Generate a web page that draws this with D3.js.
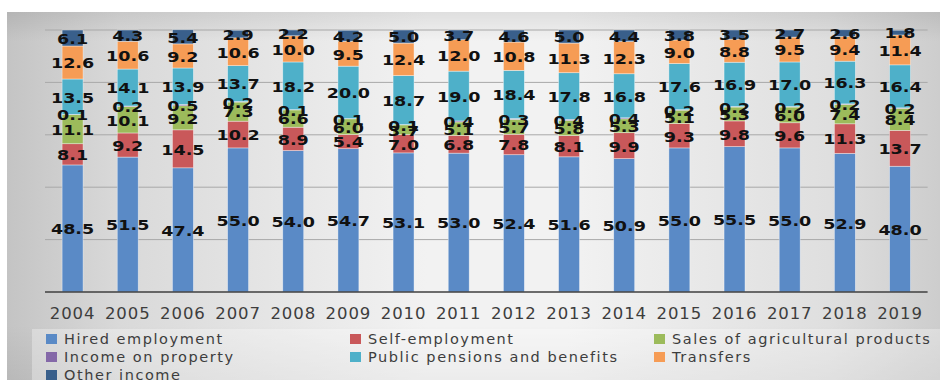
<!DOCTYPE html>
<html>
<head>
<meta charset="utf-8">
<script src="https://cdn.jsdelivr.net/npm/d3@7"></script>
<style>
  html, body { margin: 0; padding: 0; background: #ffffff; }
  svg { display: block; }
</style>
</head>
<body>
<svg id="chart" width="940" height="380"></svg>
<script>
// Household income structure by source, % of total
const years = ["2004","2005","2006","2007","2008","2009","2010","2011","2012","2013","2014","2015","2016","2017","2018","2019"];
const hiredEmployment = [48.5, 51.5, 47.4, 55.0, 54.0, 54.7, 53.1, 53.0, 52.4, 51.6, 50.9, 55.0, 55.5, 55.0, 52.9, 48.0];
const selfEmployment  = [8.1, 9.2, 14.5, 10.2, 8.9, 5.4, 7.0, 6.8, 7.8, 8.1, 9.9, 9.3, 9.8, 9.6, 11.3, 13.7];
const agriSales       = [11.1, 10.1, 9.2, 7.3, 6.6, 6.0, 3.7, 5.1, 5.7, 5.8, 5.3, 5.1, 5.3, 6.0, 7.4, 8.4];
const propertyIncome  = [0.1, 0.2, 0.5, 0.2, 0.1, 0.1, 0.1, 0.4, 0.3, 0.4, 0.4, 0.2, 0.2, 0.2, 0.2, 0.2];
const pensions        = [13.5, 14.1, 13.9, 13.7, 18.2, 20.0, 18.7, 19.0, 18.4, 17.8, 16.8, 17.6, 16.9, 17.0, 16.3, 16.4];
const transfers       = [12.6, 10.6, 9.2, 10.6, 10.0, 9.5, 12.4, 12.0, 10.8, 11.3, 12.3, 9.0, 8.8, 9.5, 9.4, 11.4];
const otherIncome     = [6.1, 4.3, 5.4, 2.9, 2.2, 4.2, 5.0, 3.7, 4.6, 5.0, 4.4, 3.8, 3.5, 2.7, 2.6, 1.8];
const yTicks = [0, 20, 40, 60, 80, 100];

const seriesNames = ["Hired employment", "Self-employment", "Sales of agricultural products",
                     "Income on property", "Public pensions and benefits", "Transfers", "Other income"];
const seriesValues = [hiredEmployment, selfEmployment, agriSales, propertyIncome, pensions, transfers, otherIncome];
const seriesColors = ["#5a8ac6", "#c9585a", "#9cbb5b", "#8468a8", "#4eb0c9", "#f69c55", "#395f8b"];

const svg = d3.select("#chart");
const defs = svg.append("defs");

// panel background: light in the middle, greyer toward the edges
const gH = defs.append("linearGradient").attr("id", "bgH").attr("x1", "0").attr("x2", "1").attr("y1", "0").attr("y2", "0");
[[0, "#c4c4c4"], [0.12, "#d9d9d9"], [0.45, "#f2f2f2"], [0.6, "#f2f2f2"], [0.88, "#dfdfdf"], [1, "#cdcdcd"]]
  .forEach(([o, c]) => gH.append("stop").attr("offset", o).attr("stop-color", c));
const gV = defs.append("linearGradient").attr("id", "bgV").attr("x1", "0").attr("x2", "0").attr("y1", "0").attr("y2", "1");
[[0, "#000", 0.08], [0.08, "#000", 0.0], [0.85, "#000", 0.0], [1, "#000", 0.06]]
  .forEach(([o, c, a]) => gV.append("stop").attr("offset", o).attr("stop-color", c).attr("stop-opacity", a));

svg.append("rect").attr("x", 7).attr("y", 12).attr("width", 933).attr("height", 368).attr("fill", "url(#bgH)");
svg.append("rect").attr("x", 7).attr("y", 12).attr("width", 933).attr("height", 368).attr("fill", "url(#bgV)");

// scales
const x = d3.scaleBand().domain(years).range([45, 927.6]).paddingInner(0.62).paddingOuter(0.31);
const y = d3.scaleLinear().domain([0, 100]).range([292, 30]);

// gridlines
svg.append("g").selectAll("line").data(yTicks.filter(t => t > 0)).join("line")
  .attr("x1", 45).attr("x2", 927.6)
  .attr("y1", d => y(d)).attr("y2", d => y(d))
  .attr("stroke", "#a8a8a8").attr("stroke-width", 1);

// stacked data
const rows = years.map((yr, i) => {
  const r = { year: yr };
  seriesNames.forEach((n, k) => r[n] = seriesValues[k][i]);
  return r;
});
const stacked = d3.stack().keys(seriesNames)(rows);

// bars
const barG = svg.append("g");
stacked.forEach((layer, k) => {
  barG.append("g").attr("fill", seriesColors[k])
    .selectAll("rect").data(layer).join("rect")
    .attr("x", d => x(d.data.year))
    .attr("width", x.bandwidth())
    .attr("y", d => y(d[1]))
    .attr("height", d => y(d[0]) - y(d[1]))
    .attr("stroke", "rgba(255,255,255,0.55)")
    .attr("stroke-width", 0.7);
});

// baseline axis
const xAxis = svg.append("g").attr("transform", `translate(0,${y(0)})`)
  .call(d3.axisBottom(x).tickSize(0).tickPadding(0));
xAxis.select(".domain").attr("d", "M45,0H927.6").attr("stroke", "#3f3f3f").attr("stroke-width", 1.6);
xAxis.selectAll(".tick text")
  .attr("y", 21).attr("dy", "0.35em")
  .attr("font-family", "DejaVu Sans").attr("font-size", 16.5)
  .attr("letter-spacing", 0.9)
  .attr("fill", "#3d3d3d");

// value labels, centred in each segment
const labG = svg.append("g");
stacked.forEach((layer, k) => {
  labG.append("g").selectAll("text").data(layer).join("text")
    .attr("transform", d => `translate(${x(d.data.year) + x.bandwidth() / 2},${(y(d[0]) + y(d[1])) / 2 + 1}) scale(1.3,1)`)
    .attr("text-anchor", "middle")
    .attr("dy", "0.36em")
    .attr("font-family", "DejaVu Sans").attr("font-weight", "bold").attr("font-size", 13.5)
    .attr("fill", "#111")
    .text(d => (d[1] - d[0]).toFixed(1));
});

// legend
svg.append("rect").attr("x", 32).attr("y", 329).attr("width", 908).attr("height", 51)
  .attr("fill", "#ffffff").attr("fill-opacity", 0.32);
const legendPos = [[46, 339], [350, 339], [654, 339], [46, 357], [350, 357], [654, 357], [46, 375]];
const leg = svg.append("g");
seriesNames.forEach((n, k) => {
  const [lx, ly] = legendPos[k];
  leg.append("rect").attr("x", lx).attr("y", ly - 5).attr("width", 11).attr("height", 10).attr("fill", seriesColors[k]);
  leg.append("text").attr("x", lx + 18).attr("y", ly).attr("dy", "0.36em")
    .attr("font-family", "DejaVu Sans").attr("font-size", 14.5)
    .attr("letter-spacing", 1.55)
    .attr("fill", "#3d3d3d").text(n);
});
</script>
</body>
</html>
